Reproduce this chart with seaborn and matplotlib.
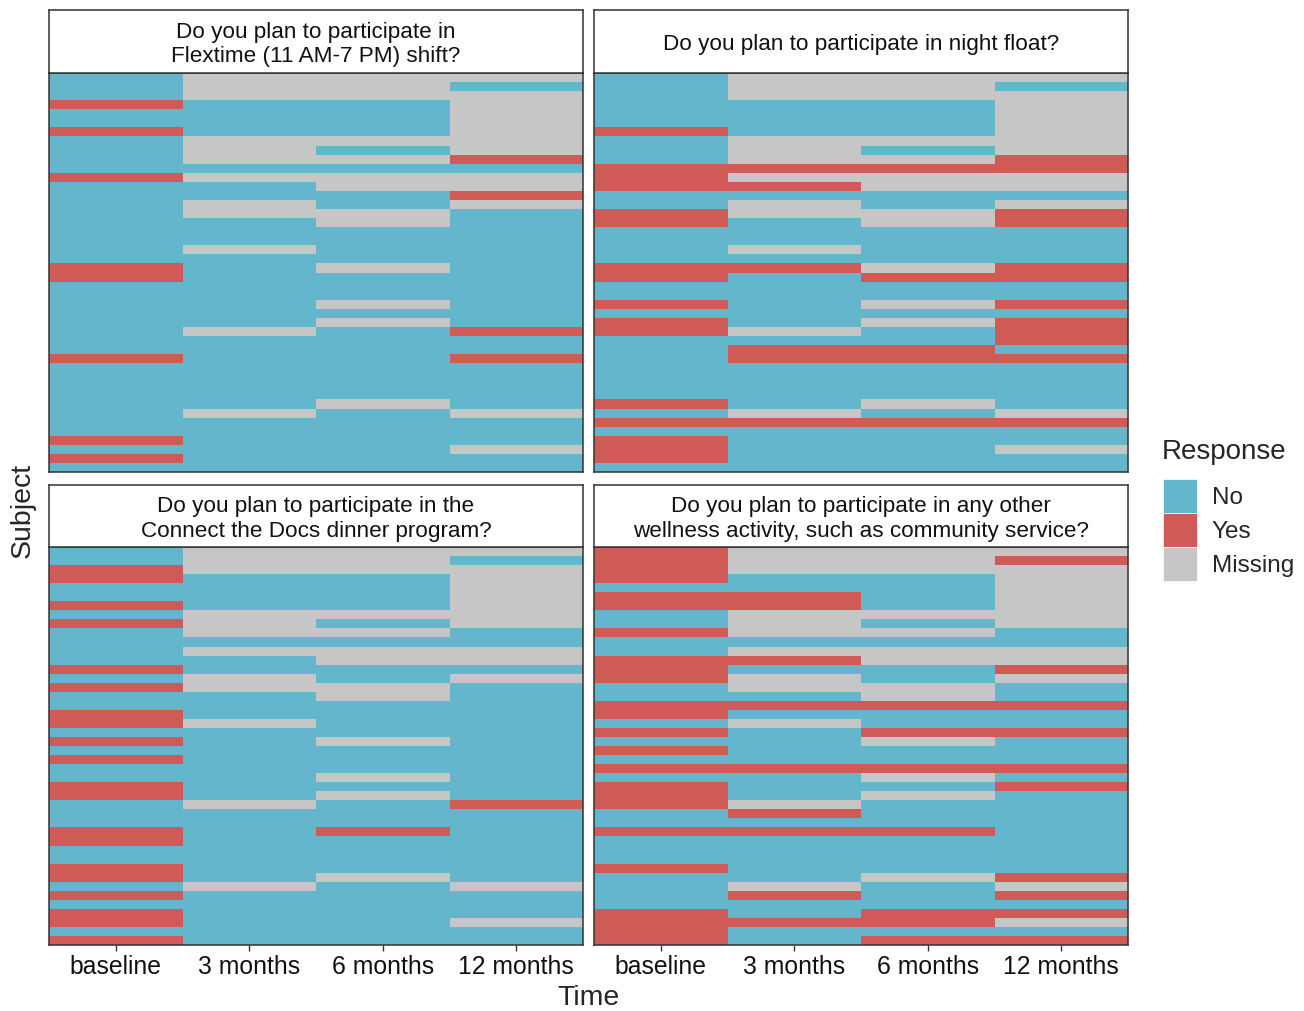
import numpy as np
import pandas as pd
import seaborn as sns
import matplotlib.pyplot as plt
from matplotlib.colors import ListedColormap
from matplotlib.patches import Patch

# response codes per subject (top to bottom), columns = baseline, 3m, 6m, 12m
# N = No, Y = Yes, M = Missing
times = ["baseline", "3 months", "6 months", "12 months"]
responses = ["No", "Yes", "Missing"]
colours = ["#64B6CC", "#D05A55", "#C6C6C6"]

flextime = ["NMMM", "NMMN", "NMMM", "YNNM", "NNNM", "NNNM", "YNNM", "NMMM", "NMNM", "NMMY",
            "NNNN", "YMMM", "NNMM", "NNNY", "NMNM", "NMMN", "NNMN", "NNNN", "NNNN", "NMNN",
            "NNNN", "YNMN", "YNNN", "NNNN", "NNNN", "NNMN", "NNNN", "NNMN", "NMNY", "NNNN",
            "NNNN", "YNNY", "NNNN", "NNNN", "NNNN", "NNNN", "NNMN", "NMNM", "NNNN", "NNNN",
            "YNNN", "NNNM", "YNNN", "NNNN"]

night_float = ["NMMM", "NMMN", "NMMM", "NNNM", "NNNM", "NNNM", "YNNM", "NMMM", "NMNM", "NMMY",
               "YYYY", "YMMM", "YYMM", "NNNN", "NMNM", "YMMY", "YNMY", "NNNN", "NNNN", "NMNN",
               "NNNN", "YYMY", "YNYY", "NNNN", "NNNN", "YNMY", "NNNN", "YNMY", "YMNY", "NNNY",
               "NYYN", "NYYY", "NNNN", "NNNN", "NNNN", "NNNN", "YNMN", "NMNM", "YYYY", "NNNN",
               "YNNN", "YNNM", "YNNN", "NNNN"]

connect_docs = ["NMMM", "NMMN", "YMMM", "YNNM", "NNNM", "NNNM", "YNNM", "NMMM", "YMNM", "NMMN",
                "NNNN", "NMMM", "NNMM", "YNNN", "NMNM", "YMMN", "NNMN", "NNNN", "YNNN", "YMNN",
                "NNNN", "YNMN", "NNNN", "YNNN", "NNNN", "NNMN", "YNNN", "YNMN", "NMNY", "NNNN",
                "NNNN", "YNYN", "YNNN", "NNNN", "NNNN", "YNNN", "YNMN", "NMNM", "YNNN", "NNNN",
                "YNNN", "YNNM", "NNNN", "YNNN"]

other_wellness = ["YMMM", "YMMY", "YMMM", "YNNM", "NNNM", "YYNM", "YYNM", "NMMM", "NMNM", "YMMN",
                  "NNNN", "NMMM", "YYMM", "YNNY", "YMNM", "NMMN", "NNMN", "YYYY", "YNNN", "NMNN",
                  "YNYY", "NNMN", "YNNN", "NNNN", "YYYY", "NNMN", "YNNY", "YNMN", "YMNN", "NYNN",
                  "NNNN", "YYYN", "NNNN", "NNNN", "NNNN", "YNNN", "NNMY", "NMNM", "NYNY", "NNNN",
                  "YNYY", "YYYM", "YNNN", "YNYY"]

titles = ["Do you plan to participate in\nFlextime (11 AM-7 PM) shift?",
          "Do you plan to participate in night float?",
          "Do you plan to participate in the\nConnect the Docs dinner program?",
          "Do you plan to participate in any other\nwellness activity, such as community service?"]
panels = [flextime, night_float, connect_docs, other_wellness]

code_map = {"N": 0, "Y": 1, "M": 2}

sns.set_theme(style="white")
plt.rcParams['font.family'] = ['Liberation Sans', 'DejaVu Sans']

W, H = 1304, 1011
fig = plt.figure(figsize=(W / 100, H / 100), dpi=100)

def box(x0, y0, x1, y1):
    # pixel box (top-left origin) -> figure fraction rect
    return [x0 / W, 1 - y1 / H, (x1 - x0) / W, (y1 - y0) / H]

cols_x = [(49, 583), (594, 1128)]
rows_y = [(10, 73, 472), (485, 547, 945)]
cmap = ListedColormap(colours)
edge = "#333333"

for i, (rows, title) in enumerate(zip(panels, titles)):
    r, c = divmod(i, 2)
    x0, x1 = cols_x[c]
    s0, p0, p1 = rows_y[r]

    df = pd.DataFrame([[code_map[ch] for ch in row] for row in rows], columns=times)
    df.index = np.arange(1, len(rows) + 1)

    ax = fig.add_axes(box(x0, p0, x1, p1))
    sns.heatmap(df, cmap=cmap, vmin=-0.5, vmax=2.5, cbar=False, ax=ax,
                xticklabels=times, yticklabels=False)
    for s in ax.spines.values():
        s.set_visible(True)
        s.set_color(edge)
        s.set_linewidth(1.1)
    ax.set_ylabel("")
    ax.set_xlabel("")
    if r == 1:
        ax.tick_params(axis="x", bottom=True, length=4, width=1, color=edge,
                       labelsize=17.8, pad=3, labelcolor="#111111", rotation=0)
    else:
        ax.tick_params(axis="x", bottom=False, labelbottom=False)
    ax.tick_params(axis="y", left=False)

    sx = fig.add_axes(box(x0, s0, x1, p0))
    sx.set_xticks([])
    sx.set_yticks([])
    sx.set_facecolor("white")
    for s in sx.spines.values():
        s.set_visible(True)
        s.set_color(edge)
        s.set_linewidth(1.1)
    sx.text(0.5, 0.455, title, ha="center", va="center", fontsize=16.2,
            color="#111111", linespacing=1.22, transform=sx.transAxes)

fig.text(589 / W, 1 - 998 / H, "Time", ha="center", va="center", fontsize=20.5)
fig.text(23 / W, 1 - 510 / H, "Subject", ha="center", va="center", fontsize=20.5, rotation=90)

# legend: title placed separately so the gap above the keys matches
fig.text(1162 / W, 1 - 452 / H, "Response", ha="left", va="center", fontsize=20)
handles = [Patch(facecolor=col, edgecolor="white", linewidth=0.5, label=lab)
           for col, lab in zip(colours, responses)]
leg = fig.legend(handles=handles, loc="upper left",
                 bbox_to_anchor=(1163 / W, 1 - 479 / H), frameon=False,
                 fontsize=17.5, handlelength=1.4, handleheight=1.78,
                 labelspacing=0.0, handletextpad=0.6, borderpad=0, borderaxespad=0)

fig.savefig("out.png", dpi=100)
